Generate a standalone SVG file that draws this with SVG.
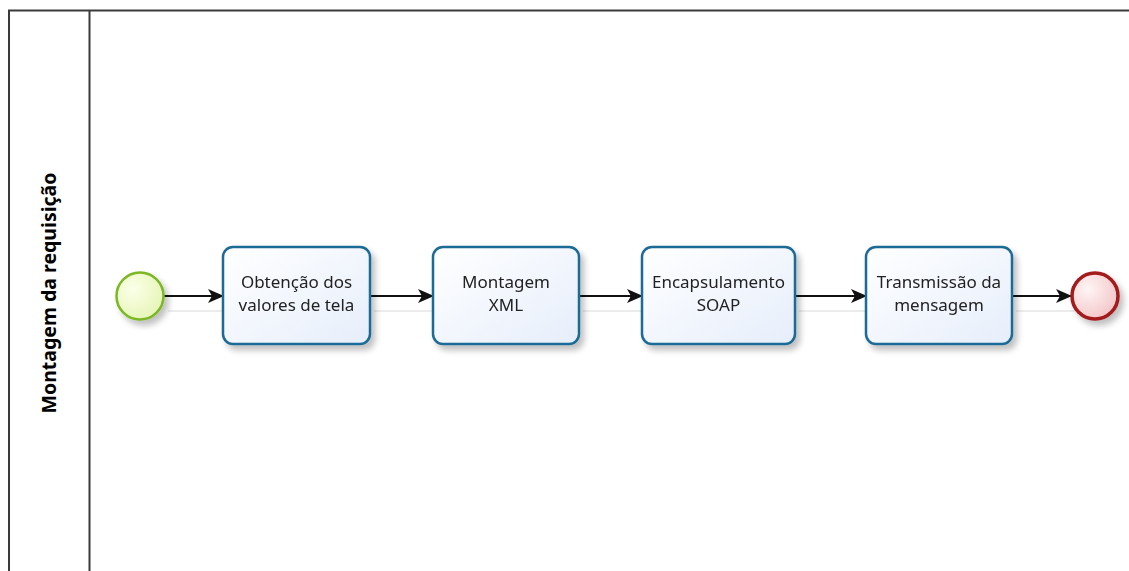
<svg xmlns="http://www.w3.org/2000/svg" width="1129" height="571" viewBox="0 0 1129 571">
  <style>
    .lane { fill: none; stroke: #3a3a3a; stroke-width: 2; }
    .task { fill: url(#taskFill); stroke: #1d6a96; stroke-width: 2.5; }
    .label { font-family: "Noto Sans", "Open Sans", sans-serif; font-size: 17px; fill: #222; text-anchor: middle; }
    .title { font-family: "Noto Sans", "Liberation Sans", sans-serif; font-size: 19.5px; font-weight: bold; fill: #000; text-anchor: middle; }
    .flow { fill: none; stroke: #111; stroke-width: 2; marker-end: url(#arrow); }
    .flowShadow { fill: none; stroke: #ececec; stroke-width: 2; }
  </style>
  <defs>
    <linearGradient id="taskFill" x1="0" y1="0" x2="1" y2="1">
      <stop offset="0" stop-color="#ffffff"/>
      <stop offset="1" stop-color="#e6eefb"/>
    </linearGradient>
    <radialGradient id="startFill" cx="0.35" cy="0.35" r="0.7">
      <stop offset="0" stop-color="#fbffe8"/>
      <stop offset="1" stop-color="#e6f5b8"/>
    </radialGradient>
    <radialGradient id="endFill" cx="0.35" cy="0.35" r="0.7">
      <stop offset="0" stop-color="#fff5f5"/>
      <stop offset="1" stop-color="#f3c6c8"/>
    </radialGradient>
    <filter id="shadow" x="-20%" y="-20%" width="150%" height="150%">
      <feGaussianBlur in="SourceAlpha" stdDeviation="3"/>
      <feOffset dx="4" dy="5" result="b"/>
      <feComponentTransfer><feFuncA type="linear" slope="0.25"/></feComponentTransfer>
      <feMerge><feMergeNode/><feMergeNode in="SourceGraphic"/></feMerge>
    </filter>
    <marker id="arrow" viewBox="0 0 16 14" refX="15" refY="7" markerWidth="16" markerHeight="14" markerUnits="userSpaceOnUse" orient="auto">
      <path d="M0,0 L16,7 L0,14 L4,7 Z" fill="#111"/>
    </marker>
  </defs>

  <rect width="1129" height="571" fill="#ffffff"/>

  <!-- pool and lane -->
  <g id="pool">
    <path class="lane" d="M9,580 L9,10.5 L1140,10.5"/>
    <line class="lane" x1="89.5" y1="10.5" x2="89.5" y2="580"/>
    <text class="title" transform="translate(56,293) rotate(-90)">Montagem da requisição</text>
  </g>

  <!-- sequence flows -->
  <g id="connectors">
    <path class="flowShadow" d="M168,311 H227 M374,311 H437 M583,311 H646 M799,311 H870 M1016,311 H1075"/>
    <path class="flow" d="M164,296 H223"/>
    <path class="flow" d="M370,296 H433"/>
    <path class="flow" d="M579,296 H642"/>
    <path class="flow" d="M795,296 H866"/>
    <path class="flow" d="M1012,296 H1071"/>
  </g>

  <g id="start" filter="url(#shadow)">
    <circle cx="140" cy="296" r="23.5" fill="url(#startFill)" stroke="#7ab826" stroke-width="2.5"/>
  </g>

  <g id="task1" filter="url(#shadow)">
    <rect class="task" x="223" y="247" width="147" height="97" rx="10"/>
    <text class="label" x="296.5" y="288">Obtenção dos</text>
    <text class="label" x="296.5" y="311">valores de tela</text>
  </g>

  <g id="task2" filter="url(#shadow)">
    <rect class="task" x="433" y="247" width="146" height="97" rx="10"/>
    <text class="label" x="506" y="288">Montagem</text>
    <text class="label" x="506" y="311">XML</text>
  </g>

  <g id="task3" filter="url(#shadow)">
    <rect class="task" x="642" y="247" width="153" height="97" rx="10"/>
    <text class="label" x="718.5" y="288">Encapsulamento</text>
    <text class="label" x="718.5" y="311">SOAP</text>
  </g>

  <g id="task4" filter="url(#shadow)">
    <rect class="task" x="866" y="247" width="146" height="97" rx="10"/>
    <text class="label" x="939" y="288">Transmissão da</text>
    <text class="label" x="939" y="311">mensagem</text>
  </g>

  <g id="end" filter="url(#shadow)">
    <circle cx="1095" cy="296" r="23" fill="url(#endFill)" stroke="#a31b1f" stroke-width="3.5"/>
  </g>
</svg>
